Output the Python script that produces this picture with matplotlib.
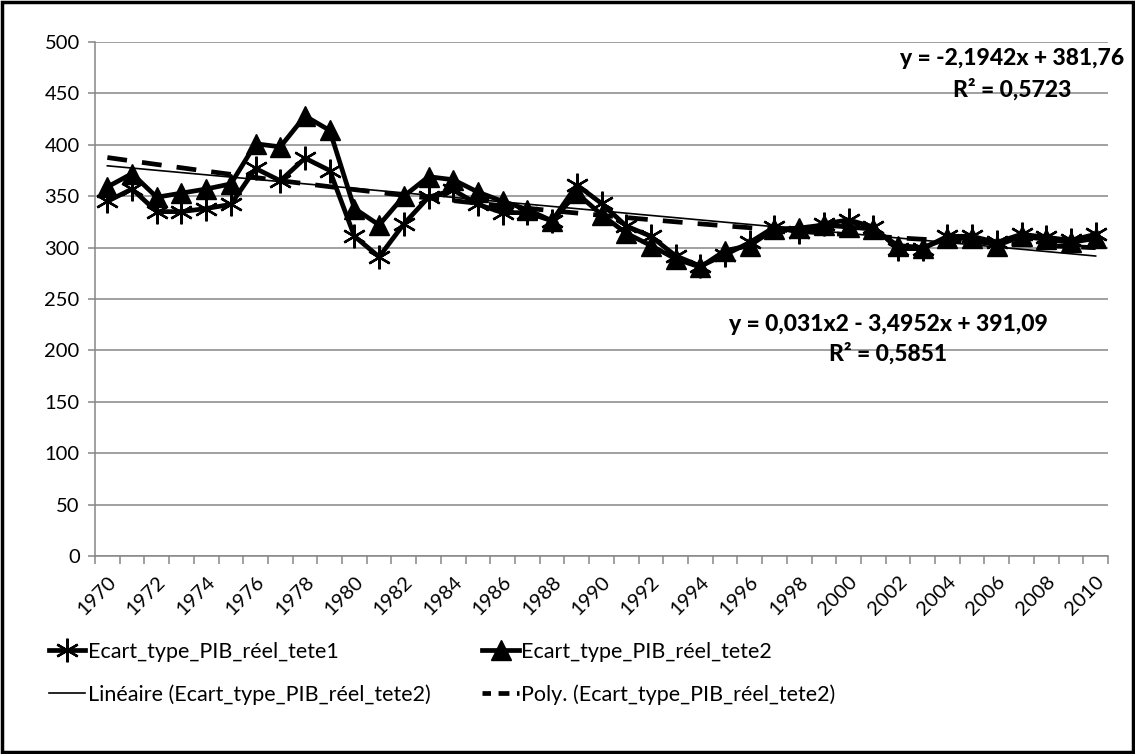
import numpy as np
import matplotlib
matplotlib.use("Agg")
import matplotlib.pyplot as plt
from matplotlib.patches import Rectangle
from matplotlib.lines import Line2D

plt.rcParams['font.family'] = ['Lato', 'DejaVu Sans']

years = list(range(1970, 2011))
tete1 = [345, 357, 335, 335, 338, 342, 377, 365, 387, 375,
         311, 291, 323, 349, 356, 342, 334, 334, 326, 361,
         343, 321, 311, 292, 282, 293, 305, 320, 315, 323,
         327, 320, 299, 299, 311, 311, 305, 313, 310, 307, 313]
tete2 = [359, 372, 349, 353, 357, 362, 401, 398, 428, 414,
         338, 322, 350, 369, 366, 354, 345, 337, 326, 353,
         332, 314, 302, 289, 281, 297, 302, 318, 319, 322,
         320, 318, 302, 300, 309, 309, 302, 311, 308, 305, 309]
lin_coef = [-2.1942, 381.76]          # y = a*x + b
poly_coef = [0.031, -3.4952, 391.09]  # y = a*x^2 + b*x + c
lin_label = "y = -2,1942x + 381,76\nR² = 0,5723"
poly_label = "y = 0,031x2 - 3,4952x + 391,09\nR² = 0,5851"
names = ["Ecart_type_PIB_réel_tete1", "Ecart_type_PIB_réel_tete2",
         "Linéaire (Ecart_type_PIB_réel_tete2)", "Poly. (Ecart_type_PIB_réel_tete2)"]

W, H = 1135, 754
fig = plt.figure(figsize=(W / 100, H / 100), dpi=100)
ax = fig.add_axes([95 / W, 1 - 556 / H, (1108 - 95) / W, (556 - 42) / H])

x = np.arange(1, len(years) + 1)
grid_c = '#868686'
fs = 14.5

l1, = ax.plot(x, tete1, color='black', lw=3.4, marker=(6, 2, 0), ms=17, mew=1.7,
              zorder=3, label=names[0])
l2, = ax.plot(x, tete2, color='black', lw=3.4, marker='^', ms=15,
              zorder=4, label=names[1])
xl = np.linspace(1, len(years), 200)
l3, = ax.plot(xl, np.polyval(lin_coef, xl), color='black', lw=1.2, zorder=5, label=names[2])
l4, = ax.plot(xl, np.polyval(poly_coef, xl), color='black', lw=3.4, ls=(0, (4.2, 3.2)),
              zorder=5, label=names[3])
l4_proxy = Line2D([], [], color='black', lw=3.4, ls=(0.5, (2.3, 1.6)))

ax.set_xlim(0.5, len(years) + 0.5)
ax.set_ylim(0, 500)
ax.set_yticks(np.arange(0, 501, 50))
ax.yaxis.grid(True, color=grid_c, lw=1.1)
ax.set_axisbelow(True)
ax.set_xticks(x[::2])
ax.set_xticklabels([str(y) for y in years[::2]], rotation=45, ha='right',
                   rotation_mode='anchor', fontsize=fs)
ax.set_xticks(np.arange(0.5, len(years) + 1.0, 1), minor=True)
ax.tick_params(axis='x', which='major', length=0, pad=12)
ax.tick_params(axis='x', which='minor', length=6, color=grid_c, width=1.1)
ax.tick_params(axis='y', length=5, color=grid_c, width=1.1, labelsize=fs, pad=6)
for s in ['top', 'right']:
    ax.spines[s].set_visible(False)
for s in ['left', 'bottom']:
    ax.spines[s].set_color(grid_c)
    ax.spines[s].set_linewidth(1.1)

fig.text(1012 / W, 1 - 74 / H, lin_label, ha='center', va='center', fontsize=16.5,
         fontweight='black', linespacing=1.5)
fig.text(888 / W, 1 - 339 / H, poly_label, ha='center', va='center', fontsize=16.5,
         fontweight='black', linespacing=1.4)

lfs = 15.5
fig.legend(handles=[l1, l3, l2, l4_proxy], labels=[names[0], names[2], names[1], names[3]],
           loc='upper left', bbox_to_anchor=(40 / W, 1 - 633 / H), ncol=2, frameon=False,
           fontsize=lfs, handlelength=1.7, handletextpad=0.12, columnspacing=2.4,
           labelspacing=1.05, borderaxespad=0)

fig.add_artist(Rectangle((0.0015, 0.002), 0.997, 0.996, transform=fig.transFigure,
                         fill=False, lw=2.5, edgecolor='black'))

fig.savefig('out.png', dpi=100)
